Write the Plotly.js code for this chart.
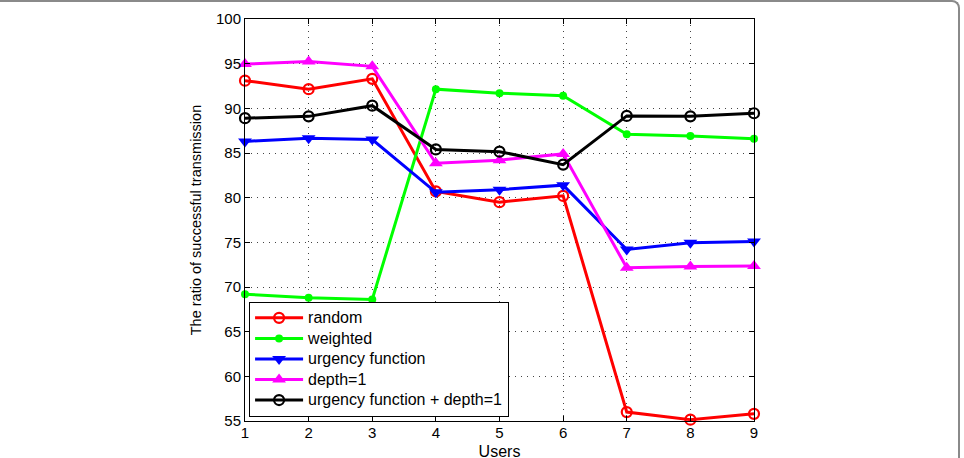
<!DOCTYPE html>
<html>
<head>
<meta charset="utf-8">
<script src="https://cdn.plot.ly/plotly-3.0.1.min.js"></script>
<style>
  html, body { margin: 0; padding: 0; background: #fff; }
  #wrap { position: relative; width: 964px; height: 458px; overflow: hidden; }
  #chart { width: 964px; height: 466px; }
  #frame {
    position: absolute; left: -20px; top: 0px; width: 980px; height: 480px;
    border-top: 2px solid #8a8a8a; border-right: 2px solid #8a8a8a;
    border-top-right-radius: 8px; box-sizing: border-box; pointer-events: none;
  }
</style>
</head>
<body>
<div id="wrap">
  <div id="chart"></div>
  <div id="frame"></div>
</div>
<script>
// Number of users on the x axis
const users = [1, 2, 3, 4, 5, 6, 7, 8, 9];

// Ratio of successful transmission (%) for each scheme
const randomSel   = [93.1, 92.15, 93.3, 80.7, 79.5, 80.2, 56.0, 55.15, 55.8];
const weighted    = [69.2, 68.8, 68.6, 92.15, 91.7, 91.4, 87.1, 86.9, 86.6];
const urgency     = [86.3, 86.65, 86.5, 80.6, 80.9, 81.4, 74.2, 74.95, 75.1];
const depth1      = [94.95, 95.25, 94.7, 83.85, 84.2, 84.9, 72.15, 72.3, 72.35];
const urgDepth1   = [88.9, 89.1, 90.3, 85.4, 85.15, 83.7, 89.15, 89.1, 89.45];

// Legend entries, in trace order
const seriesNames = ['random', 'weighted', 'urgency function', 'depth=1',
                     'urgency function + depth=1'];

const xTicks = [1, 2, 3, 4, 5, 6, 7, 8, 9];
const yTicks = [55, 60, 65, 70, 75, 80, 85, 90, 95, 100];

const FONT = 'Liberation Sans, Arial, Helvetica, sans-serif';

// Legend rows are spaced from the legend font size; the label itself is
// drawn a little larger so the rows stay compact.
function legendLabel(s) {
  return '<span style="font-size:16px">' + s + '</span>';
}

function series(i, y, color, symbol, size, lineW) {
  return {
    x: users, y: y, name: legendLabel(seriesNames[i]), type: 'scatter',
    mode: 'lines+markers', cliponaxis: false,
    line: { color: color, width: 3 },
    marker: { symbol: symbol, size: size, color: color,
              line: { color: color, width: lineW } }
  };
}

const traces = [
  series(0, randomSel, '#ff0000', 'circle-open', 10, 2.2),
  series(1, weighted, '#00ff00', 'circle', 8, 0),
  series(2, urgency, '#0000ff', 'triangle-down', 12, 0),
  series(3, depth1, '#ff00ff', 'triangle-up', 12, 0),
  series(4, urgDepth1, '#000000', 'circle-open', 10, 2.2)
];

const axisCommon = {
  showline: true, linecolor: '#000', linewidth: 1, mirror: 'ticks',
  ticks: 'inside', ticklen: 5, tickcolor: '#000', tickwidth: 1,
  showgrid: true, gridcolor: '#444', griddash: '1px,5px', gridwidth: 1,
  zeroline: false,
  tickfont: { family: FONT, size: 15, color: '#000' }
};

// The figure runs slightly below the visible window, so the x-axis title
// sits right at the lower edge.
const layout = {
  width: 964, height: 466,
  margin: { l: 245, r: 210, t: 19, b: 45 },
  paper_bgcolor: '#fff', plot_bgcolor: '#fff',
  font: { family: FONT, size: 15, color: '#000' },
  showlegend: true,
  legend: {
    x: 0.008, y: 0.011, xanchor: 'left', yanchor: 'bottom',
    bgcolor: '#fff', bordercolor: '#000', borderwidth: 1,
    font: { family: FONT, size: 13.5, color: '#000' },
    itemwidth: 48, tracegroupgap: 0
  },
  xaxis: Object.assign({}, axisCommon, {
    range: [1, 9], tickvals: xTicks, ticktext: xTicks.map(String),
    ticklabelstandoff: -2,
    title: { text: 'Users', standoff: 5, font: { family: FONT, size: 16 } }
  }),
  yaxis: Object.assign({}, axisCommon, {
    range: [55, 100], tickvals: yTicks, ticktext: yTicks.map(String),
    title: { text: 'The ratio of successful transmission', standoff: 10,
             font: { family: FONT, size: 14.5 } }
  })
};

Plotly.newPlot('chart', traces, layout, { staticPlot: true, displayModeBar: false });
</script>
</body>
</html>
